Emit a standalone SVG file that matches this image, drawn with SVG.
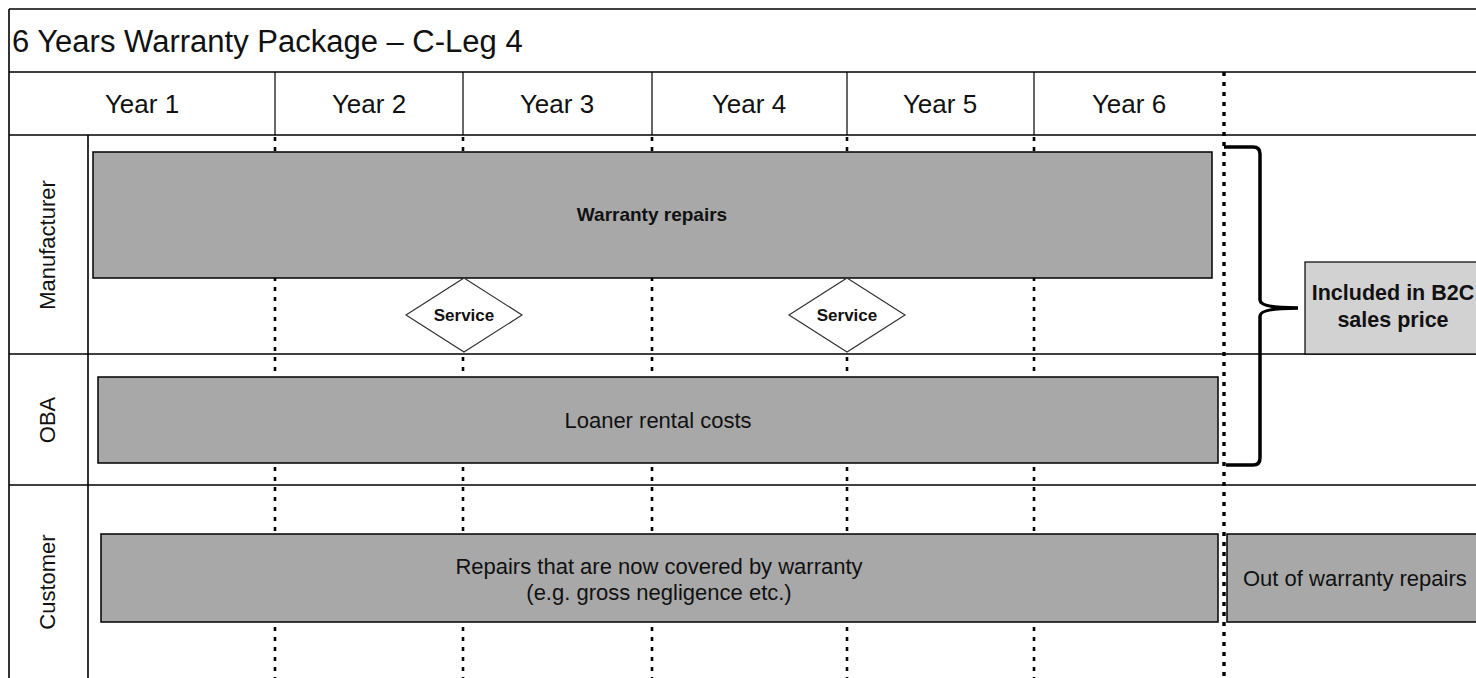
<svg xmlns="http://www.w3.org/2000/svg" width="1476" height="678" viewBox="0 0 1476 678">
<style>
.grid{stroke:#000;stroke-width:1.6;fill:none}
.thin{stroke:#000;stroke-width:1.2;fill:none}
.dot{stroke:#000;stroke-width:2.6;stroke-dasharray:4 6;fill:none}
.dotb{stroke:#000;stroke-width:3.4;stroke-dasharray:4 6;fill:none}
.box{fill:#a8a8a8;stroke:#000;stroke-width:1.5}
.lbox{fill:#d2d2d2;stroke:#000;stroke-width:1.2}
.dia{fill:#fff;stroke:#333;stroke-width:1.2}
text{font-family:"Liberation Sans",Arial,sans-serif;fill:#111}
.yr{font-size:26px;text-anchor:middle}
.rl{font-size:22px;text-anchor:middle}
.bt{font-size:19px;font-weight:bold;text-anchor:middle}
.nt{font-size:22px;text-anchor:middle}
</style>
<rect x="0" y="0" width="1476" height="678" fill="#fff"/>
<g id="grid">
<line class="grid" x1="9" y1="9" x2="1476" y2="9"/>
<line class="grid" x1="9" y1="9" x2="9" y2="678"/>
<line class="grid" x1="9" y1="72" x2="1476" y2="72"/>
<line class="grid" x1="9" y1="135" x2="1476" y2="135"/>
<line class="grid" x1="9" y1="354" x2="1476" y2="354"/>
<line class="grid" x1="9" y1="485" x2="1476" y2="485"/>
<line class="grid" x1="88" y1="135" x2="88" y2="678"/>
<line class="thin" x1="275" y1="72" x2="275" y2="135"/>
<line class="thin" x1="463" y1="72" x2="463" y2="135"/>
<line class="thin" x1="652" y1="72" x2="652" y2="135"/>
<line class="thin" x1="847" y1="72" x2="847" y2="135"/>
<line class="thin" x1="1034" y1="72" x2="1034" y2="135"/>
</g>
<g id="connectors">
<line class="dot" x1="275" y1="137" x2="275" y2="678"/>
<line class="dot" x1="463" y1="137" x2="463" y2="678"/>
<line class="dot" x1="652" y1="137" x2="652" y2="678"/>
<line class="dot" x1="847" y1="137" x2="847" y2="678"/>
<line class="dot" x1="1034" y1="137" x2="1034" y2="678"/>
<line class="dotb" x1="1224" y1="72" x2="1224" y2="678"/>
<path d="M1224,147 H1253 Q1260,147 1260,154 V300 Q1260,308 1298,308 Q1260,308 1260,316 V458 Q1260,465 1253,465 H1226" fill="none" stroke="#000" stroke-width="3.5"/>
</g>
<g id="title"><text x="12" y="52" font-size="31">6 Years Warranty Package – C-Leg 4</text></g>
<g id="years">
<text class="yr" x="142" y="113">Year 1</text>
<text class="yr" x="369" y="113">Year 2</text>
<text class="yr" x="557" y="113">Year 3</text>
<text class="yr" x="749" y="113">Year 4</text>
<text class="yr" x="940" y="113">Year 5</text>
<text class="yr" x="1129" y="113">Year 6</text>
</g>
<g id="row-labels">
<text class="rl" transform="translate(55,245) rotate(-90)">Manufacturer</text>
<text class="rl" transform="translate(55,420) rotate(-90)">OBA</text>
<text class="rl" transform="translate(55,582) rotate(-90)">Customer</text>
</g>
<g id="warranty-repairs">
<rect class="box" x="93" y="152" width="1119" height="126"/>
<text class="bt" x="652" y="221">Warranty repairs</text>
</g>
<g id="service-1">
<polygon class="dia" points="464,278 522,315 464,352 406,315"/>
<text x="464" y="321" font-size="17" font-weight="bold" text-anchor="middle">Service</text>
</g>
<g id="service-2">
<polygon class="dia" points="847,278 905,315 847,352 789,315"/>
<text x="847" y="321" font-size="17" font-weight="bold" text-anchor="middle">Service</text>
</g>
<g id="loaner">
<rect class="box" x="98" y="377" width="1120" height="86"/>
<text class="nt" x="658" y="428">Loaner rental costs</text>
</g>
<g id="customer-repairs">
<rect class="box" x="101" y="534" width="1117" height="88"/>
<text class="nt" x="659" y="574">Repairs that are now covered by warranty</text>
<text class="nt" x="659" y="600">(e.g. gross negligence etc.)</text>
</g>
<g id="out-of-warranty">
<rect class="box" x="1227" y="534" width="260" height="88"/>
<text x="1243" y="586" font-size="22">Out of warranty repairs</text>
</g>
<g id="b2c">
<rect class="lbox" x="1305" y="262" width="180" height="92"/>
<text x="1393" y="300" font-size="21.5" font-weight="bold" text-anchor="middle">Included in B2C</text>
<text x="1393" y="327" font-size="21.5" font-weight="bold" text-anchor="middle">sales price</text>
</g>
</svg>
